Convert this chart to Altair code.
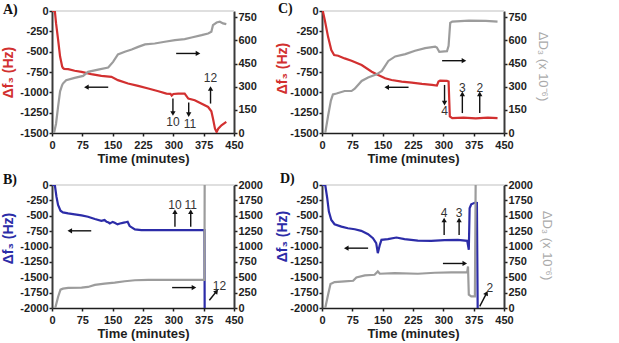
import altair as alt
import pandas as pd

RED = "#d23030"
BLUE = "#2c2ca8"
GRAY = "#9c9c9c"
INK = "#1e1e1e"
FONT = "Liberation Sans"

# ---------------- Panel A ----------------
a_f_t = [0, 7, 10, 15, 20, 25, 27, 30, 40, 56, 73, 97, 122, 147, 163, 188, 213, 238, 263, 283,
         293, 296, 300, 312, 328, 337, 353, 369, 386, 394, 398, 403, 407, 411, 419, 431]
a_f_v = [0, 0, -150, -350, -560, -680, -700, -712, -715, -735, -748, -776, -797, -809, -850, -892,
         -920, -953, -986, -1015, -1019, -1040, -1020, -1015, -1015, -1077, -1097, -1138, -1180,
         -1233, -1323, -1447, -1488, -1447, -1405, -1364]
a_d_t = [5, 10, 15, 20, 25, 27, 35, 56, 77, 89, 114, 139, 151, 163, 180, 197, 213, 230, 254, 279,
         304, 328, 345, 370, 386, 394, 398, 407, 415, 423, 431]
a_d_v = [0, 60, 170, 270, 310, 320, 342, 357, 370, 396, 411, 424, 461, 509, 526, 541, 558, 574,
         580, 591, 602, 608, 619, 634, 645, 656, 699, 716, 721, 710, 705]
a_arr_t = [299, 338, 392, 307, 139]
a_arr_v = [-1077, -1126, -1138, -522, -937]
a_arr_t2 = [299, 338, 392, 361, 85]
a_arr_v2 = [-1261, -1274, -953, -522, -937]
a_arr_ang = [180, 180, 0, 90, 270]
a_lab_t = [299, 341, 392]
a_lab_v = [-1364, -1385, -822]
a_lab = ["10", "11", "12"]

# ---------------- Panel C ----------------
c_f_t = [0, 2, 7, 15, 23, 30, 40, 56, 73, 98, 123, 139, 156, 172, 197, 222, 247, 272, 284, 288,
         292, 309, 313, 316, 322, 350, 380, 410, 434]
c_f_v = [0, 0, -114, -318, -481, -542, -550, -583, -611, -664, -746, -787, -827, -848, -868, -880,
         -897, -909, -917, -868, -856, -860, -868, -1296, -1317, -1310, -1320, -1312, -1318]
c_d_t = [8, 15, 22, 27, 36, 56, 73, 81, 98, 114, 135, 148, 164, 181, 206, 230, 255, 280, 284, 290,
         309, 313, 317, 322, 363, 405, 434]
c_d_v = [0, 110, 210, 250, 256, 272, 272, 287, 337, 359, 380, 402, 467, 496, 511, 533, 550, 559,
         554, 526, 530, 565, 713, 722, 728, 726, 722]
c_arr_t = [303, 347, 390, 297, 214]
c_arr_v = [-909, -1255, -1255, -611, -938]
c_arr_t2 = [303, 347, 390, 351, 160]
c_arr_v2 = [-1133, -1019, -1019, -611, -938]
c_arr_ang = [180, 0, 0, 90, 270]
c_lab_t = [303, 347, 390]
c_lab_v = [-1235, -950, -950]
c_lab = ["4", "3", "2"]

# ---------------- Panel B ----------------
b_f_t = [0, 7, 11, 15, 21, 27, 40, 56, 73, 89, 106, 122, 130, 135, 140, 143, 150, 155, 162, 168,
         175, 180, 187, 192, 205, 221, 254, 320, 377, 377.5]
b_f_v = [0, 0, -190, -326, -418, -446, -462, -478, -495, -516, -554, -582, -570, -598, -610, -625,
         -600, -614, -640, -625, -615, -609, -598, -668, -723, -734, -734, -734, -734, -2100]
b_d_t = [8, 15, 21, 27, 40, 73, 89, 106, 130, 155, 180, 205, 238, 320, 377, 377.5]
b_d_v = [0, 179, 299, 315, 326, 332, 342, 375, 397, 413, 435, 451, 458, 458, 458, 2100]
b_arr_t = [304, 343, 297, 97, 389]
b_arr_v = [-679, -679, -1668, -745, -1875]
b_arr_t2 = [304, 343, 351, 44, 407]
b_arr_v2 = [-435, -435, -1668, -745, -1728]
b_arr_ang = [0, 0, 90, 270, 39]
b_lab_t = [304, 343, 414]
b_lab_v = [-326, -326, -1647]
b_lab = ["10", "11", "12"]

# ---------------- Panel D ----------------
d_f_t = [0, 8, 13, 17, 23, 31, 48, 64, 81, 97, 114, 126, 134, 138, 143, 147, 163, 184, 204, 237,
         270, 303, 336, 359, 363, 365, 369, 379, 383, 385]
d_f_v = [0, 0, -216, -432, -568, -638, -676, -703, -719, -746, -800, -865, -946, -1108, -973, -892,
         -881, -854, -881, -903, -908, -897, -892, -908, -1054, -378, -314, -286, -290, -2100]
d_d_t = [8, 15, 21, 31, 56, 77, 85, 106, 130, 138, 143, 180, 237, 279, 320, 359, 361, 363, 369,
         378, 380]
d_d_v = [0, 216, 389, 422, 432, 443, 497, 530, 541, 595, 557, 568, 557, 573, 578, 584, 676, 216,
         189, 189, 2100]
d_arr_t = [302, 339, 114, 299, 390]
d_arr_v = [-811, -811, -1027, -1276, -1973]
d_arr_t2 = [302, 339, 60, 353, 407]
d_arr_v2 = [-568, -568, -1027, -1276, -1757]
d_arr_ang = [0, 0, 270, 90, 27]
d_lab_t = [302, 339, 415]
d_lab_v = [-449, -449, -1676]
d_lab = ["4", "3", "2"]

TIME_TICKS = [0, 75, 150, 225, 300, 375, 450]
NEG_LABEL = "datum.value < 0 ? '-' + format(-datum.value, 'd') : format(datum.value, 'd')"


def panel(letter, letter_pos, ft, fv, dt, dv, color, fdom, dmax, dstep,
          arr, labs, ftitle_pos, dtitle_pos=None, height=122):
    xscale = alt.Scale(domain=[0, 450], nice=False, zero=False)
    xaxis = alt.Axis(values=TIME_TICKS, title="Time (minutes)", grid=False, format="d",
                     labelFont=FONT, labelFontWeight="bold", labelFontSize=11,
                     labelColor=INK, labelFlush=False, labelOverlap=False,
                     labelPadding=3, tickSize=3, tickColor=INK, tickWidth=1.5,
                     domainColor=INK, domainWidth=1.5,
                     titleFont=FONT, titleFontWeight="bold", titleFontSize=13,
                     titleColor=INK, titlePadding=2)
    lscale = alt.Scale(domain=fdom, nice=False, zero=False)
    laxis = alt.Axis(values=list(range(fdom[0], 1, 250)), title="Δf₃ (Hz)",
                     labelExpr=NEG_LABEL, grid=False, orient="left",
                     labelFont=FONT, labelFontWeight="bold", labelFontSize=11,
                     labelColor=INK, labelFlush=False, labelOverlap=False,
                     labelPadding=1, tickSize=3, tickColor=INK, tickWidth=1.5,
                     domainColor="#3a3a3a", domainWidth=2,
                     titleFont=FONT, titleFontWeight="bold", titleFontSize=14,
                     titleColor=color, titleAngle=270, titleAlign="center",
                     titleBaseline="middle", titleX=ftitle_pos[0], titleY=ftitle_pos[1])
    r_axis = dict(values=list(range(0, dmax + 1, dstep)), grid=False, orient="right",
                  format="d", labelFont=FONT, labelFontWeight="bold", labelFontSize=11,
                  labelColor=INK, labelFlush=False, labelOverlap=False, labelPadding=1,
                  tickSize=3, tickColor=INK, tickWidth=1.5, domainColor="#3a3a3a",
                  domainWidth=2)
    if dtitle_pos is None:
        r_axis["title"] = None
    else:
        r_axis.update(title="ΔD₃ (x 10⁻⁶)", titleFont=FONT, titleFontWeight="normal",
                      titleFontSize=13, titleColor="#aaaaaa", titleAngle=90,
                      titleAlign="center", titleBaseline="middle",
                      titleX=dtitle_pos[0], titleY=dtitle_pos[1])
    dtop = dmax + (dstep * 0.27 if dmax < 1000 else 0)
    yr = alt.Y("d:Q", scale=alt.Scale(domain=[0, dtop], nice=False, zero=False),
               axis=alt.Axis(**r_axis))

    def X(field):
        return alt.X(field, scale=xscale, axis=xaxis)

    def YL(field):
        return alt.Y(field, scale=lscale, axis=laxis)

    fdf = pd.DataFrame({"t": ft, "v": fv, "i": range(len(ft))})
    ddf = pd.DataFrame({"t": dt, "d": dv, "i": range(len(dt))})
    adf = pd.DataFrame({"t": arr[0], "v": arr[1], "t2": arr[2], "v2": arr[3], "ang": arr[4]})
    ldf = pd.DataFrame({"t": labs[0], "v": labs[1], "txt": labs[2]})

    top = alt.Chart(pd.DataFrame({"v": [0]})).mark_rule(
        color="#d4d4d4", strokeWidth=1.5).encode(y=YL("v:Q"))
    fline = alt.Chart(fdf).mark_line(color=color, strokeWidth=2.2, clip=True).encode(
        x=X("t:Q"), y=YL("v:Q"), order="i:Q")
    shafts = alt.Chart(adf).mark_rule(color="#111", strokeWidth=1.4).encode(
        x=X("t:Q"), x2="t2:Q", y=YL("v:Q"), y2="v2:Q")
    heads = alt.Chart(adf).mark_point(shape="triangle-up", filled=True, color="#111",
                                      size=28, opacity=1).encode(
        x=X("t2:Q"), y=YL("v2:Q"), angle=alt.Angle("ang:Q", scale=None))
    texts = alt.Chart(ldf).mark_text(font=FONT, fontSize=12, color="#333",
                                     align="center", baseline="middle").encode(
        x=X("t:Q"), y=YL("v:Q"), text="txt:N")
    tag = alt.Chart(pd.DataFrame({"z": [0]})).mark_text(
        text=letter, font="Liberation Serif", fontWeight="bold", fontSize=14,
        color="#111", align="left", baseline="middle").encode(
        x=alt.value(letter_pos[0]), y=alt.value(letter_pos[1]))

    left = alt.layer(top, fline, shafts, heads, texts, tag)
    right = alt.Chart(ddf).mark_line(color=GRAY, strokeWidth=2.2, clip=True).encode(
        x=X("t:Q"), y=yr, order="i:Q")
    return alt.layer(left, right).resolve_scale(y="independent").properties(
        width=182, height=height)


A = panel("A)", (-49, -1), a_f_t, a_f_v, a_d_t, a_d_v, RED, [-1500, 0], 750, 150,
          (a_arr_t, a_arr_v, a_arr_t2, a_arr_v2, a_arr_ang), (a_lab_t, a_lab_v, a_lab),
          (-44, 61))
C = panel("C)", (-44, -2), c_f_t, c_f_v, c_d_t, c_d_v, RED, [-1500, 0], 750, 150,
          (c_arr_t, c_arr_v, c_arr_t2, c_arr_v2, c_arr_ang), (c_lab_t, c_lab_v, c_lab),
          (-40, 57), (38, 55))
B = panel("B)", (-49, -5), b_f_t, b_f_v, b_d_t, b_d_v, BLUE, [-2000, 0], 2000, 250,
          (b_arr_t, b_arr_v, b_arr_t2, b_arr_v2, b_arr_ang), (b_lab_t, b_lab_v, b_lab),
          (-44, 53), None, 123)
D = panel("D)", (-42, -6), d_f_t, d_f_v, d_d_t, d_d_v, BLUE, [-2000, 0], 2000, 250,
          (d_arr_t, d_arr_v, d_arr_t2, d_arr_v2, d_arr_ang), (d_lab_t, d_lab_v, d_lab),
          (-40, 51), (42, 60), 123)

chart = alt.concat(A, C, B, D, columns=2, spacing={"row": 52, "column": 88},
                   bounds="flush").properties(
    autosize=alt.AutoSizeParams(type="none"),
    padding={"left": 52, "top": 11, "right": 567, "bottom": 332},
    background="white",
).configure_view(stroke=None)

chart.save("out.html", embed_options={"renderer": "svg", "actions": False})
